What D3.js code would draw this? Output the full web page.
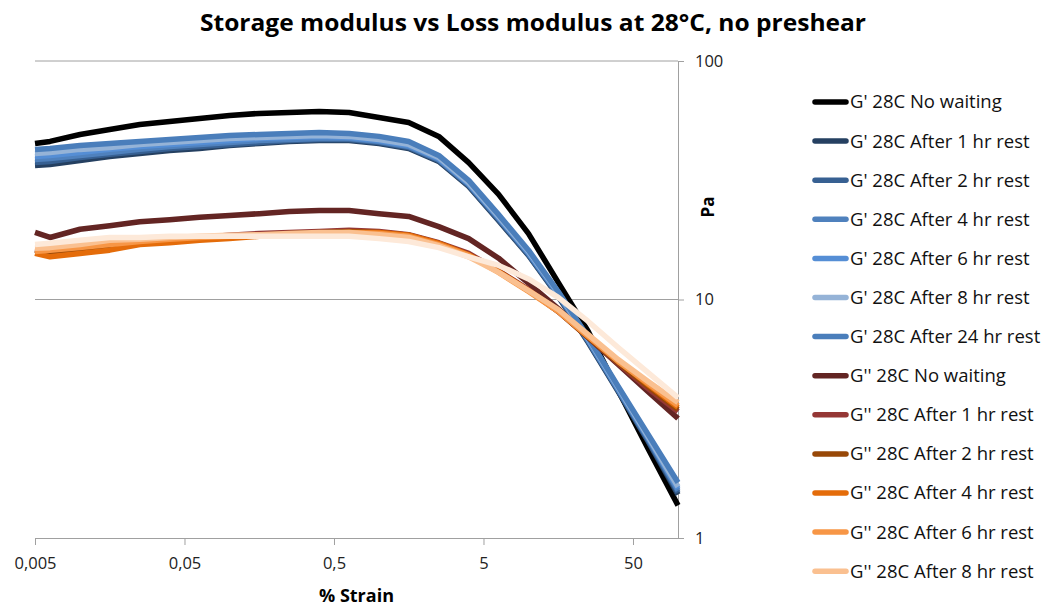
<!DOCTYPE html>
<html>
<head>
<meta charset="utf-8">
<script src="https://cdn.jsdelivr.net/npm/d3@7"></script>
<style>
  body { margin: 0; background: #fff; }
  svg { display: block; }
  text { font-family: "Open Sans", "Liberation Sans", sans-serif; }
</style>
</head>
<body>
<svg id="chart" width="1050" height="607"></svg>
<script>
// Strain sweep points (% strain)
const strain = [0.005, 0.0063, 0.01, 0.0158, 0.0251, 0.0398, 0.0631, 0.1, 0.158, 0.251, 0.398, 0.631, 1, 1.58, 2.51, 3.98, 6.31, 10, 15.8, 25.1, 39.8, 63.1, 100];

// Storage modulus G' (Pa)
const gpNoWait = [45.1, 46.0, 49.2, 51.6, 54.2, 55.8, 57.4, 59.1, 60.3, 60.8, 61.4, 60.8, 58.0, 55.2, 48.3, 37.5, 27.6, 18.9, 11.8, 7.34, 4.15, 2.37, 1.37];
const gp1h  = [36.5, 36.8, 38.3, 39.8, 40.9, 42.1, 43.0, 44.2, 45.1, 46.0, 46.4, 46.4, 45.1, 43.0, 37.9, 29.8, 21.4, 15.3, 10.3, 6.60, 4.11, 2.54, 1.52];
const gp2h  = [37.5, 37.9, 39.4, 40.6, 41.7, 43.0, 43.8, 44.7, 45.5, 46.4, 46.9, 46.9, 45.5, 43.4, 38.3, 30.1, 21.6, 15.4, 10.4, 6.67, 4.15, 2.56, 1.55];
const gp4h  = [38.6, 39.0, 40.2, 41.3, 42.6, 43.8, 44.7, 45.5, 46.4, 46.9, 47.3, 47.3, 46.0, 43.8, 38.6, 30.4, 21.9, 15.6, 10.5, 6.73, 4.19, 2.61, 1.58];
const gp6h  = [39.8, 40.2, 41.3, 42.6, 43.8, 44.7, 45.5, 46.4, 47.3, 47.8, 48.3, 47.8, 46.4, 44.2, 39.0, 30.6, 22.1, 15.7, 10.6, 6.80, 4.23, 2.64, 1.61];
const gp8h  = [40.9, 41.3, 42.6, 43.4, 44.7, 45.5, 46.4, 47.3, 47.8, 48.3, 48.7, 48.3, 46.9, 44.7, 39.4, 30.9, 22.3, 15.9, 10.7, 6.86, 4.28, 2.66, 1.64];
const gp24h = [42.6, 43.0, 44.2, 45.1, 46.0, 46.9, 47.8, 48.7, 49.2, 49.7, 50.1, 49.7, 48.3, 46.0, 40.2, 31.6, 22.7, 16.1, 10.8, 6.93, 4.32, 2.72, 1.71];

// Loss modulus G'' (Pa)
const gppNoWait = [19.1, 18.2, 19.7, 20.4, 21.2, 21.6, 22.1, 22.5, 22.9, 23.4, 23.6, 23.6, 22.9, 22.3, 20.2, 18.0, 14.9, 11.7, 9.17, 6.93, 5.34, 4.11, 3.17];
const gpp1h  = [16.2, 15.9, 16.4, 16.8, 17.3, 17.9, 18.2, 18.6, 18.9, 19.1, 19.3, 19.5, 19.3, 18.7, 17.3, 15.6, 13.2, 11.0, 8.91, 6.93, 5.39, 4.23, 3.39];
const gpp2h  = [16.1, 15.7, 16.2, 16.7, 17.3, 17.7, 18.0, 18.4, 18.6, 18.9, 19.1, 19.3, 19.1, 18.6, 17.2, 15.4, 13.1, 10.9, 8.91, 6.93, 5.44, 4.32, 3.46];
const gpp4h  = [15.6, 15.1, 15.6, 16.1, 17.0, 17.3, 17.7, 18.0, 18.4, 18.6, 18.9, 19.1, 19.1, 18.6, 17.2, 15.4, 13.1, 10.9, 8.99, 7.00, 5.55, 4.40, 3.53];
const gpp6h  = [15.9, 16.1, 16.5, 17.0, 17.5, 17.9, 18.2, 18.4, 18.6, 18.7, 18.9, 19.1, 18.9, 18.4, 17.0, 15.3, 13.0, 10.8, 8.91, 7.00, 5.50, 4.44, 3.59];
const gpp8h  = [16.4, 16.5, 17.0, 17.7, 17.9, 18.2, 18.4, 18.6, 18.7, 18.9, 19.1, 19.1, 18.7, 18.2, 16.8, 15.1, 13.0, 10.9, 9.08, 7.13, 5.60, 4.53, 3.70];
const gpp24h = [17.0, 17.2, 17.7, 18.2, 18.2, 18.4, 18.4, 18.4, 18.4, 18.4, 18.4, 18.4, 18.0, 17.5, 16.5, 15.1, 13.9, 12.2, 10.2, 8.09, 6.29, 4.94, 3.88];

const seriesNames = [
  "G' 28C No waiting", "G' 28C After 1 hr rest", "G' 28C After 2 hr rest", "G' 28C After 4 hr rest",
  "G' 28C After 6 hr rest", "G' 28C After 8 hr rest", "G' 28C After 24 hr rest",
  "G'' 28C No waiting", "G'' 28C After 1 hr rest", "G'' 28C After 2 hr rest", "G'' 28C After 4 hr rest",
  "G'' 28C After 6 hr rest", "G'' 28C After 8 hr rest", "G'' 28C After 24 hr rest"
];
const seriesValues = [gpNoWait, gp1h, gp2h, gp4h, gp6h, gp8h, gp24h,
                      gppNoWait, gpp1h, gpp2h, gpp4h, gpp6h, gpp8h, gpp24h];
const seriesColors = ["#000000", "#254061", "#376092", "#4F81BD", "#558ED5", "#95B3D7", "#4A7EBB",
                      "#632523", "#953735", "#984807", "#E46C0A", "#F79646", "#FAC090", "#FDE9D9"];

const xTickValues = [0.005, 0.05, 0.5, 5, 50];
const xTickLabels = ["0,005", "0,05", "0,5", "5", "50"];
const yTickValues = [1, 10, 100];
const yTickLabels = ["1", "10", "100"];

const chartTitle = "Storage modulus vs Loss modulus at 28°C, no preshear";
const xTitle = "% Strain";
const yTitle = "Pa";

// ---- layout ----
const W = 1050, H = 607;
const plot = { left: 35, right: 678, top: 61, bottom: 538 };
const axisColor = "#a0a0a0";

const svg = d3.select("#chart");

const x = d3.scaleLog().domain([0.005, 100]).range([plot.left, plot.right]);
const y = d3.scaleLog().domain([1, 100]).range([plot.bottom, plot.top]);

// Title
svg.append("text")
  .attr("x", 533).attr("y", 31)
  .attr("text-anchor", "middle")
  .attr("font-size", 23).attr("font-weight", "bold")
  .attr("textLength", 666).attr("lengthAdjust", "spacingAndGlyphs")
  .attr("fill", "#000")
  .text(chartTitle);

// Horizontal gridlines
svg.append("g").selectAll("line")
  .data(yTickValues.filter(v => v > 1))
  .join("line")
  .attr("x1", plot.left).attr("x2", plot.right)
  .attr("y1", d => y(d)).attr("y2", d => y(d))
  .attr("stroke", axisColor).attr("stroke-width", 1);

// X axis
const xAxis = svg.append("g")
  .attr("transform", `translate(0,${plot.bottom})`)
  .call(d3.axisBottom(x)
    .tickValues(xTickValues)
    .tickFormat((d, i) => xTickLabels[i])
    .tickSizeInner(7).tickSizeOuter(0).tickPadding(12));

// Y axis on the right side
const yAxis = svg.append("g")
  .attr("transform", `translate(${plot.right},0)`)
  .call(d3.axisRight(y)
    .tickValues(yTickValues)
    .tickFormat((d, i) => yTickLabels[i])
    .tickSizeInner(6).tickSizeOuter(0).tickPadding(11));

[xAxis, yAxis].forEach(g => {
  g.select(".domain").attr("stroke", axisColor);
  g.selectAll(".tick line").attr("stroke", axisColor);
  g.selectAll(".tick text")
    .attr("font-size", 16.5)
    .attr("fill", "#222")
    .attr("font-family", '"Open Sans", sans-serif');
});

// Axis titles
svg.append("text")
  .attr("x", (plot.left + plot.right) / 2).attr("y", 602)
  .attr("text-anchor", "middle")
  .attr("font-size", 18).attr("font-weight", "bold")
  .text(xTitle);

svg.append("text")
  .attr("transform", "translate(714,207) rotate(-90)")
  .attr("text-anchor", "middle")
  .attr("font-size", 17).attr("font-weight", "bold")
  .text(yTitle);

// Series lines
const series = seriesNames.map((name, i) => ({
  name,
  color: seriesColors[i],
  points: strain.map((s, j) => [s, seriesValues[i][j]])
}));

const line = d3.line()
  .x(d => x(d[0]))
  .y(d => y(d[1]));

svg.append("g")
  .selectAll("path")
  .data(series)
  .join("path")
  .attr("d", d => line(d.points))
  .attr("fill", "none")
  .attr("stroke", d => d.color)
  .attr("stroke-width", 5.5)
  .attr("stroke-linejoin", "round")
  .attr("stroke-linecap", "butt");

// Legend (entries that fit within the chart height)
const legendTop = 102, legendStep = 39.1;
const legendItems = series
  .map((d, i) => ({ ...d, cy: legendTop + i * legendStep }))
  .filter(d => d.cy < H - 20);

const legend = svg.append("g").selectAll("g")
  .data(legendItems)
  .join("g")
  .attr("transform", d => `translate(0,${d.cy})`);

legend.append("line")
  .attr("x1", 815).attr("x2", 846)
  .attr("stroke", d => d.color)
  .attr("stroke-width", 5.5)
  .attr("stroke-linecap", "round");

legend.append("text")
  .attr("x", 850).attr("y", 0)
  .attr("dy", "0.35em")
  .attr("font-size", 18.5)
  .attr("fill", "#111")
  .text(d => d.name);
</script>
</body>
</html>
